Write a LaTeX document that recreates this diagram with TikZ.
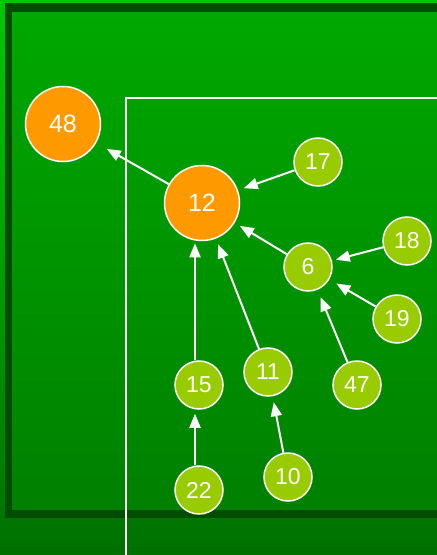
\documentclass[tikz,border=0pt]{standalone}
\usepackage{fontspec}
\setmainfont{Liberation Sans}
\usepackage{xcolor}
\usetikzlibrary{arrows.meta}

\definecolor{pagetop}{HTML}{00C800}
\definecolor{pagebottom}{HTML}{007000}
\definecolor{frametop}{HTML}{00A800}
\definecolor{framebottom}{HTML}{008000}
\definecolor{framedark}{HTML}{004D00}
\definecolor{rootorange}{HTML}{FF9900}
\definecolor{leaflime}{HTML}{99CC00}

\begin{document}
\begin{tikzpicture}[
    x=1pt, y=-1pt,
    bignode/.style={circle, draw=white, line width=1.5pt, fill=rootorange, text=white, minimum size=75pt, inner sep=0pt, font=\fontsize{25}{25}\selectfont},
    smallnode/.style={circle, draw=white, line width=1.5pt, fill=leaflime, text=white, minimum size=48pt, inner sep=0pt, font=\fontsize{23}{23}\selectfont},
    arrow/.style={-{Triangle[length=14pt,width=11pt]}, white, line width=2pt, shorten >=6pt}
]
    % Background
    \useasboundingbox (0,0) rectangle (437,555);
    \shade[top color=pagetop, bottom color=pagebottom] (0,0) rectangle (437,555);
    \fill[framedark] (5,3) rectangle (437,518);
    \shade[top color=frametop, bottom color=framebottom] (12,12) rectangle (437,509);
    \draw[white, line width=1.5pt] (126,555) -- (126,98) -- (437,98);

    % Root nodes
    \node[bignode] (n48) at (63,124) {48};
    \node[bignode] (n12) at (202,203) {12};

    % Leaf nodes
    \node[smallnode] (n17) at (318,162) {17};
    \node[smallnode] (n6) at (308,267) {6};
    \node[smallnode] (n18) at (407,241) {18};
    \node[smallnode] (n19) at (397,319) {19};
    \node[smallnode] (n47) at (357,385) {47};
    \node[smallnode] (n11) at (268,372) {11};
    \node[smallnode] (n15) at (199,385) {15};
    \node[smallnode] (n22) at (199,490) {22};
    \node[smallnode] (n10) at (288,477) {10};

    % Arrows
    \draw[arrow, shorten >=12pt] (n12) -- (n48);
    \draw[arrow] (n17) -- (n12);
    \draw[arrow] (n6) -- (n12);
    \draw[arrow] (n11) -- (n12);
    \draw[arrow, shorten >=2pt] ([xshift=-4pt]n15.north) -- ([xshift=-4pt]n15.north |- n12.south);
    \draw[arrow, shorten >=4pt] (n18) -- (n6);
    \draw[arrow, shorten >=8pt] (n19) -- (n6);
    \draw[arrow, shorten >=8pt] (n47) -- (n6);
    \draw[arrow, shorten >=4pt] ([xshift=-4pt]n22.north) -- ([xshift=-4pt]n22.north |- n15.south);
    \draw[arrow] (n10) -- (n11);
\end{tikzpicture}
\end{document}
